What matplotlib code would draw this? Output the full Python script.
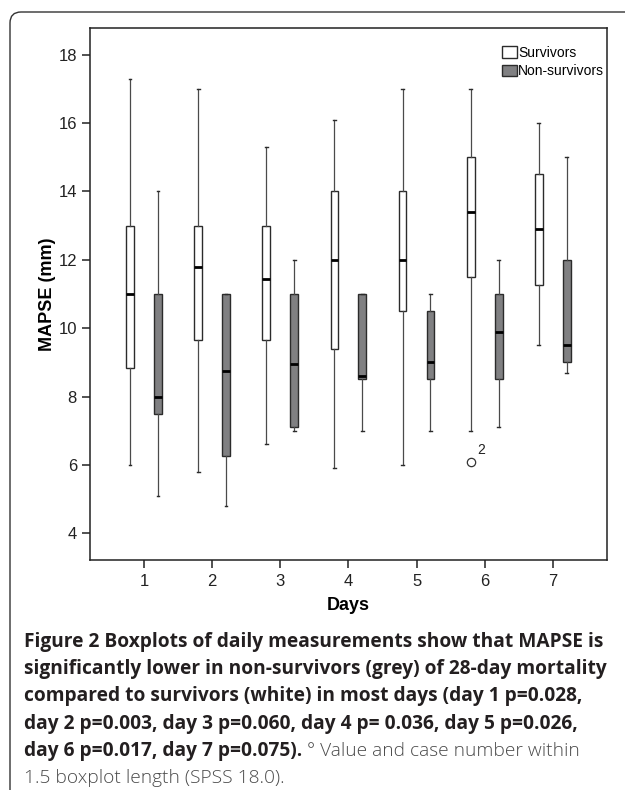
"""
MAPSE boxplots by day, survivors vs non-survivors (SPSS style figure + caption).
"""
import matplotlib
matplotlib.use("Agg")
import matplotlib.pyplot as plt
from matplotlib.patches import Patch, FancyBboxPatch

# ---- Data ----------------------------------------------------------------
DAYS = [1, 2, 3, 4, 5, 6, 7]

# survivors: lower whisker, Q1, median, Q3, upper whisker
SURV_LO  = [6.0, 5.8, 6.6, 5.9, 6.0, 7.0, 9.5]
SURV_Q1  = [8.85, 9.65, 9.65, 9.4, 10.5, 11.5, 11.25]
SURV_MED = [11.0, 11.8, 11.45, 12.0, 12.0, 13.4, 12.9]
SURV_Q3  = [13.0, 13.0, 13.0, 14.0, 14.0, 15.0, 14.5]
SURV_HI  = [17.3, 17.0, 15.3, 16.1, 17.0, 17.0, 16.0]
SURV_OUT = [[], [], [], [], [], [6.1], []]
OUT_LABEL = "2"   # case number of the day 6 outlier

# non-survivors
NON_LO  = [5.1, 4.8, 7.0, 7.0, 7.0, 7.1, 8.7]
NON_Q1  = [7.5, 6.25, 7.1, 8.5, 8.5, 8.5, 9.0]
NON_MED = [8.0, 8.75, 8.95, 8.6, 9.0, 9.9, 9.5]
NON_Q3  = [11.0, 11.0, 11.0, 11.0, 10.5, 11.0, 12.0]
NON_HI  = [14.0, 11.0, 12.0, 11.0, 11.0, 12.0, 15.0]

Y_TICKS = [4, 6, 8, 10, 12, 14, 16, 18]

CAPTION_BOLD = [
    "Figure 2 Boxplots of daily measurements show that MAPSE is",
    "significantly lower in non-survivors (grey) of 28-day mortality",
    "compared to survivors (white) in most days (day 1 p=0.028,",
    "day 2 p=0.003, day 3 p=0.060, day 4 p= 0.036, day 5 p=0.026,",
    "day 6 p=0.017, day 7 p=0.075).",
]
CAPTION_REG = [" \u00b0 Value and case number within",
               "1.5 boxplot length (SPSS 18.0)."]

# ---- Style ----------------------------------------------------------------
W, H = 625, 790
DPI = 100
OFFSET = 0.205
BOX_W = 0.115
GREY = "#808082"
EDGE = "#2b2b2b"
WHISK = "#4a4a4a"

plt.rcParams["font.family"] = ["Liberation Sans", "DejaVu Sans"]


def make_stats(lo, q1, med, q3, hi, fliers=None):
    stats = []
    for i in range(len(lo)):
        stats.append(dict(whislo=lo[i], q1=q1[i], med=med[i], q3=q3[i],
                          whishi=hi[i],
                          fliers=(fliers[i] if fliers else [])))
    return stats


fig = plt.figure(figsize=(W / DPI, H / DPI), dpi=DPI)

# rounded panel frame (right and bottom run off the picture)
frame = FancyBboxPatch((10 / DPI, -0.5), 7.0, (H - 12) / DPI + 0.5,
                       boxstyle="round,pad=0,rounding_size=0.11",
                       transform=fig.dpi_scale_trans, fill=False,
                       edgecolor="#333333", linewidth=1.0, zorder=0)
fig.patches.append(frame)

L, R, T, B = 89.5, 607.3, 28, 560
ax = fig.add_axes([L / W, 1 - B / H, (R - L) / W, (B - T) / H])

common = dict(widths=BOX_W, capwidths=0.04, patch_artist=True,
              whiskerprops=dict(color=WHISK, linewidth=0.9),
              capprops=dict(color=EDGE, linewidth=1.0),
              medianprops=dict(color="black", linewidth=2.0),
              flierprops=dict(marker="o", markersize=6, markerfacecolor="white",
                              markeredgecolor="#333333", markeredgewidth=0.9))

sv = ax.bxp(make_stats(SURV_LO, SURV_Q1, SURV_MED, SURV_Q3, SURV_HI, SURV_OUT),
            positions=[d - OFFSET for d in DAYS],
            boxprops=dict(facecolor="white", edgecolor=EDGE, linewidth=1.0),
            **common)
ns = ax.bxp(make_stats(NON_LO, NON_Q1, NON_MED, NON_Q3, NON_HI),
            positions=[d + OFFSET for d in DAYS],
            boxprops=dict(facecolor=GREY, edgecolor=EDGE, linewidth=1.0),
            **common)

# case number next to the outlier
for i, outs in enumerate(SURV_OUT):
    for v in outs:
        ax.annotate(OUT_LABEL, (DAYS[i] - OFFSET, v), xytext=(7, 5),
                    textcoords="offset pixels", fontsize=10, color="#222222",
                    ha="left", va="bottom")

ax.set_xlim(0.2, 7.8)
ax.set_ylim(3.22, 18.78)
ax.set_xticks(DAYS)
ax.set_xticklabels([str(d) for d in DAYS])
ax.set_yticks(Y_TICKS)
for s in ax.spines.values():
    s.set_linewidth(1.1)
    s.set_color("#222222")
ax.tick_params(axis="both", direction="out", length=6, width=1.1,
               color="#222222", labelsize=12, labelcolor="#222222")
ax.tick_params(axis="y", pad=3, right=False)
ax.tick_params(axis="x", pad=4, top=False)
ax.set_ylabel("MAPSE (mm)", fontsize=13, fontweight="bold", labelpad=2)
ax.set_xlabel("Days", fontsize=13, fontweight="bold", labelpad=6)

handles = [Patch(facecolor="white", edgecolor=EDGE, linewidth=1.0, label="Survivors"),
           Patch(facecolor=GREY, edgecolor=EDGE, linewidth=1.0, label="Non-survivors")]
fig.legend(handles=handles, loc="upper left",
           bbox_to_anchor=(502 / W, 1 - 46 / H), frameon=False,
           fontsize=10, handlelength=1.05, handleheight=0.9,
           handletextpad=0.12, labelspacing=0.3, borderpad=0, borderaxespad=0)

# ---- Caption ----------------------------------------------------------------
cap_font = ["Open Sans", "DejaVu Sans"]
CAP_SIZE = 13.8
x0 = 24 / W
base0 = 647
step = 27.2
fig.canvas.draw()
renderer = fig.canvas.get_renderer()
for i, line in enumerate(CAPTION_BOLD):
    y = 1 - (base0 + i * step) / H
    t = fig.text(x0, y, line, family=cap_font, fontsize=CAP_SIZE,
                 fontweight="bold", color="#231f20", va="baseline", ha="left")
    if i == len(CAPTION_BOLD) - 1:
        bb = t.get_window_extent(renderer)
        fig.text(bb.x1 / W, y, CAPTION_REG[0], family=cap_font,
                 fontsize=CAP_SIZE, fontweight="light", color="#4a4a4a",
                 va="baseline", ha="left")
y = 1 - (base0 + len(CAPTION_BOLD) * step) / H
fig.text(x0, y, CAPTION_REG[1], family=cap_font, fontsize=CAP_SIZE,
         fontweight="light", color="#4a4a4a", va="baseline", ha="left")

fig.savefig("out.png", dpi=DPI)
